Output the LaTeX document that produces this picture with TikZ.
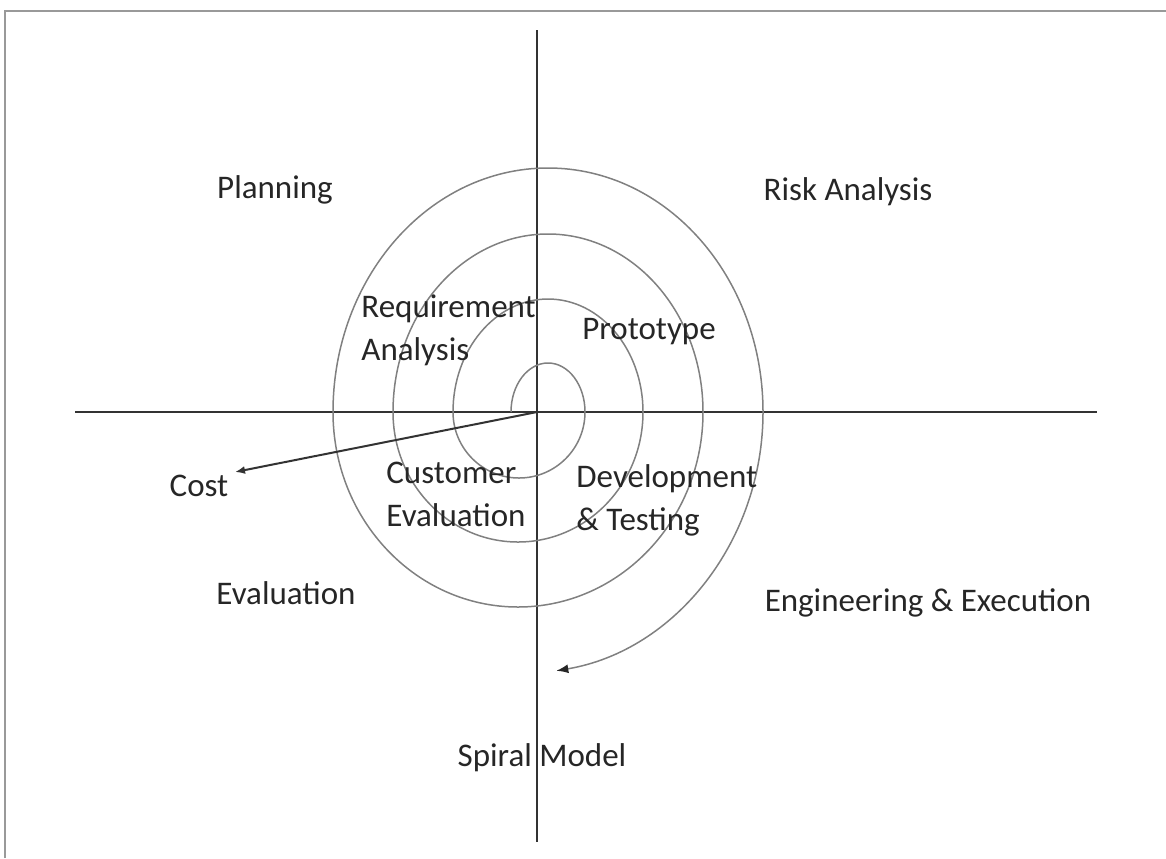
\documentclass[tikz,border=0pt]{standalone}
\usepackage{fontspec}
\setmainfont{Carlito}
\usetikzlibrary{arrows.meta}

\tikzset{
  axis/.style={draw=black!80,line width=0.8pt},
  spiral/.style={draw=black!50,line width=0.75pt},
  frame/.style={draw=black!40,line width=1pt},
  label/.style={text=black!85,font=\fontsize{16.5}{21.5}\selectfont,inner sep=0pt},
  phase/.style={label,align=left}
}

\begin{document}
\begin{tikzpicture}[x=0.5pt,y=-0.5pt]
\useasboundingbox (0,0) rectangle (1166,858);
 % frame
  \draw[frame] (5,858) -- (5,11) -- (1166,11);
 % assi
  \coordinate (o) at (537,412);
  \coordinate (top) at (537,30);
  \coordinate (bottom) at (537,842);
  \coordinate (left) at (75,412);
  \coordinate (right) at (1097,412);
  \draw[axis] (top) -- (bottom);
  \draw[axis] (left) -- (right);
 % spirale
  \draw[spiral,-{Latex[length=6pt,width=4.5pt,black!85]}] (511,412)
    arc[start angle=180,end angle=360,x radius=37,y radius=49]
    arc[start angle=0,end angle=180,x radius=66,y radius=66]
    arc[start angle=180,end angle=360,x radius=95,y radius=113]
    arc[start angle=0,end angle=180,x radius=125,y radius=130]
    arc[start angle=180,end angle=360,x radius=155,y radius=178]
    arc[start angle=0,end angle=180,x radius=185,y radius=195]
    arc[start angle=180,end angle=360,x radius=215,y radius=244]
    arc[start angle=0,end angle=81,x radius=245,y radius=262];
 % quadranti
  \node (planning) at (275,190) [label] {Planning};
  \node (risk) at (848,192) [label] {Risk Analysis};
  \node (eval) at (286,593) [label] {Evaluation};
  \node (eng) at (928,603) [label] {Engineering \& Execution};
  \node (model) at (542,758) [label] {Spiral Model};
 % fasi
  \node (req) at (361,330) [phase,anchor=west] {Requirement\\Analysis};
  \node (proto) at (649,332) [label] {Prototype};
  \node (cust) at (386,494) [phase,anchor=west] {Customer\\Evaluation};
  \node (dev) at (576,500) [phase,anchor=west] {Development\\\& Testing};
 % costo
  \node (cost) at (199,486) [label] {Cost};
  \coordinate (costtip) at (235,472);
  \draw[axis,line width=1pt,-{Latex[length=5pt,width=4pt]}] (o) -- (costtip);
\end{tikzpicture}
\end{document}
